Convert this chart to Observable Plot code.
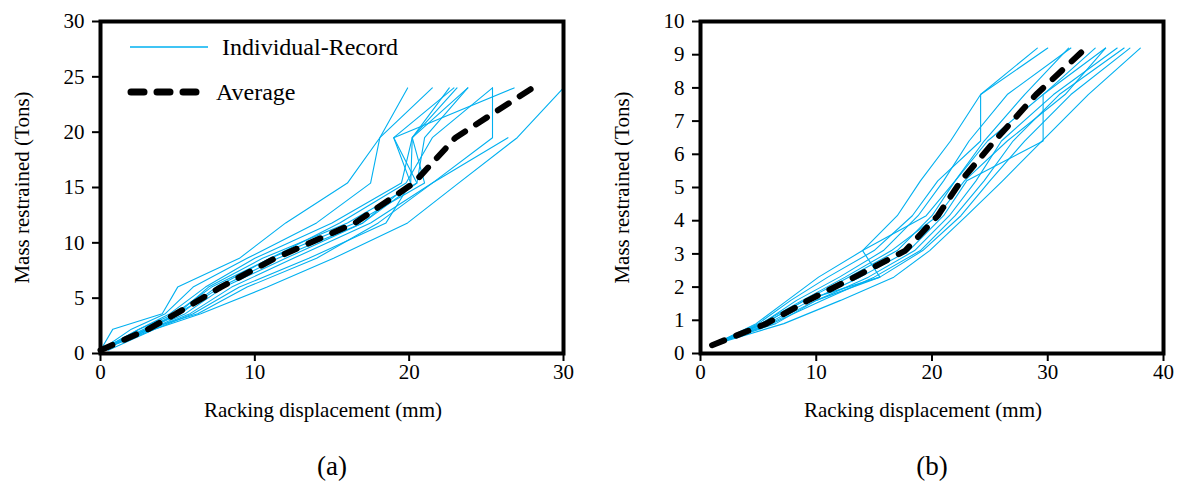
<!DOCTYPE html>
<html><head><meta charset="utf-8">
<script src="https://cdn.jsdelivr.net/npm/d3@7"></script>
<script src="https://cdn.jsdelivr.net/npm/@observablehq/plot@0.6"></script>
<style>
body{margin:0;background:#fff;}
#wrap{position:relative;width:1187px;height:482px;display:flex;background:#fff;}
#wrap svg{display:block;font-family:'Liberation Serif','Times New Roman',serif !important;}
#wrap svg text, #wrap svg g{font-family:'Liberation Serif','Times New Roman',serif !important;font-variant:normal !important;}
#legend{position:absolute;left:0;top:0;overflow:visible;}
</style></head><body>
<div id="wrap"><div id="a"></div><div id="b"></div><svg id="legend" width="600" height="120"></svg></div>
<script>
// ---------- Data: panel (a) ----------
const massLevelsA = [0.3, 2.2, 3.6, 6.0, 8.6, 11.8, 15.4, 19.5, 24];
const recordsA = [
  [0, 0.8, 4.0, 5.0, 9.0, 12.0, 16.0, 18.1, 19.9],
  [0, 2.0, 4.2, 6.0, 9.5, 14.0, 17.5, 18.1, 21.5],
  [0, 2.5, 4.5, 6.8, 10.0, 15.0, 19.5, 20.2, 22.6],
  [0, 3.0, 5.0, 7.0, 10.5, 16.0, 20.5, 19.0, 22.9],
  [0, 3.0, 5.2, 7.5, 11.0, 16.5, 21.0, 20.2, 23.1],
  [0, 3.2, 5.5, 8.0, 12.0, 17.0, 20.1, 20.2, 23.8],
  [0, 3.3, 5.8, 8.5, 12.5, 17.5, 21.5, 25.4, 25.4],
  [0, 3.5, 6.0, 9.0, 13.5, 18.5, 20.1, 19.0, 26.8],
  [0.5, 3.5, 6.5, 10.8, 15.1, 19.9, 23.2, 27.0, 30.0],
  [0, 3.0, 6.3, 9.5, 14.0, 18.0, 21.5, 26.4],
  [0, 2.8, 5.0, 7.8, 11.5, 17.0, 20.5, 21.0, 23.8],
  [0, 2.5, 4.8, 7.2, 11.0, 15.5, 19.8, 21.5, 25.4]
];
const averageA = [0, 3.1, 4.9, 7.8, 11.3, 16.5, 20.3, 23.0, 28.0];
const xTicksA = [0, 10, 20, 30];
const yTicksA = [0, 5, 10, 15, 20, 25, 30];

// ---------- Data: panel (b) ----------
const massLevelsB = [0.25, 0.9, 1.6, 2.3, 3.1, 4.15, 5.2, 6.4, 7.8, 9.2];
const recordsB = [
  [1, 4.8, 7.5, 10.2, 14.0, 17.0, 19.0, 21.6, 24.2, 29.1],
  [1, 5.0, 7.8, 11.0, 15.0, 18.3, 20.5, 24.2, 24.2, 30.0],
  [1, 5.3, 8.3, 12.0, 15.8, 18.8, 21.0, 23.2, 26.5, 32.0],
  [1, 5.5, 9.0, 12.8, 17.0, 20.0, 22.0, 24.8, 29.6, 34.1],
  [1, 5.8, 9.5, 13.8, 18.0, 21.0, 23.0, 29.6, 29.6, 35.0],
  [1, 6.0, 10.0, 14.5, 18.5, 21.5, 23.8, 26.0, 30.5, 36.0],
  [1, 6.2, 10.5, 15.0, 19.0, 22.0, 24.5, 27.0, 31.0, 36.6],
  [1, 6.5, 10.0, 15.5, 19.2, 22.5, 25.0, 28.0, 32.0, 37.1],
  [1, 7.2, 12.1, 16.7, 19.8, 23.0, 26.1, 29.5, 33.5, 38.0],
  [1, 5.5, 9.0, 15.5, 14.0, 19.5, 22.0, 24.5, 28.0, 31.8],
  [1, 5.2, 8.8, 12.5, 16.5, 20.5, 22.8, 26.5, 31.5, 35.0]
];
const averageB = [1, 5.7, 9.3, 13.3, 17.7, 20.5, 22.5, 25.4, 29.0, 33.3];
const xTicksB = [0, 10, 20, 30, 40];
const yTicksB = [0, 1, 2, 3, 4, 5, 6, 7, 8, 9, 10];

const xLabel = "Racking displacement (mm)";
const yLabel = "Mass restrained (Tons)";
const legendItems = [
  {label: "Individual-Record", kind: "record"},
  {label: "Average", kind: "average"}
];
const recordColor = "#00B0F0";
const serif = "Liberation Serif, Times New Roman, serif";

function panel({levels, records, average, xDomain, yDomain, xTicks, yTicks, width, marginLeft, marginRight, caption}) {
  const indiv = records.flatMap((xs, i) => xs.map((x, j) => ({rec: i, x, y: levels[j]})));
  const avg = average.map((x, j) => ({x, y: levels[j]}));
  return Plot.plot({
    width, height: 482, marginLeft, marginRight, marginTop: 21, marginBottom: 129,
    x: {domain: xDomain},
    y: {domain: yDomain},
    style: {fontSize: "21px", color: "black", background: "white", overflow: "visible"},
    marks: [
      Plot.line(indiv, {x: "x", y: "y", z: "rec", stroke: recordColor, strokeWidth: 1.1}),
      Plot.line(avg, {x: "x", y: "y", stroke: "black", strokeWidth: 6, strokeDasharray: "13,13", strokeLinecap: "round"}),
      Plot.axisX(xTicks, {tickSize: 8, tickPadding: 3, strokeWidth: 2, label: null, fontSize: 21, fontFamily: serif}),
      Plot.axisY(yTicks, {tickSize: 8, tickPadding: 8, strokeWidth: 2, label: null, fontSize: 21, fontFamily: serif}),
      Plot.frame({stroke: "black", strokeWidth: 4}),
      Plot.text([xLabel], {text: d => d, frameAnchor: "bottom", textAnchor: "middle", lineAnchor: "middle", dy: 57, dx: -9, fontSize: 21, fontFamily: serif}),
      Plot.text([yLabel], {text: d => d, frameAnchor: "left", textAnchor: "middle", lineAnchor: "middle", dx: -78, rotate: -90, fontSize: 21, fontFamily: serif}),
      Plot.text([caption], {text: d => d, frameAnchor: "bottom", textAnchor: "middle", lineAnchor: "middle", dy: 113, fontSize: 27, fontFamily: serif})
    ]
  });
}

document.getElementById("a").appendChild(panel({
  levels: massLevelsA, records: recordsA, average: averageA,
  xDomain: [0, 30], yDomain: [0, 30], xTicks: xTicksA, yTicks: yTicksA,
  width: 593, marginLeft: 100, marginRight: 30, caption: "(a)"
}));
document.getElementById("b").appendChild(panel({
  levels: massLevelsB, records: recordsB, average: averageB,
  xDomain: [0, 40], yDomain: [0, 10], xTicks: xTicksB, yTicks: yTicksB,
  width: 594, marginLeft: 107, marginRight: 24, caption: "(b)"
}));

// ---------- Legend (panel a) ----------
const lg = d3.select("#legend");
legendItems.forEach((item, i) => {
  const y = 47 + i * 45;
  if (item.kind === "record") {
    lg.append("line").attr("x1", 130).attr("x2", 208).attr("y1", y).attr("y2", y)
      .attr("stroke", recordColor).attr("stroke-width", 1.3);
  } else {
    lg.append("line").attr("x1", 131).attr("x2", 196).attr("y1", y).attr("y2", y)
      .attr("stroke", "black").attr("stroke-width", 7).attr("stroke-linecap", "round")
      .attr("stroke-dasharray", "13,13");
  }
  lg.append("text").attr("x", i === 0 ? 222 : 216).attr("y", y).attr("dy", "0.35em")
    .attr("font-family", serif).attr("font-size", 24).attr("fill", "black").text(item.label);
});
</script>
</body></html>
